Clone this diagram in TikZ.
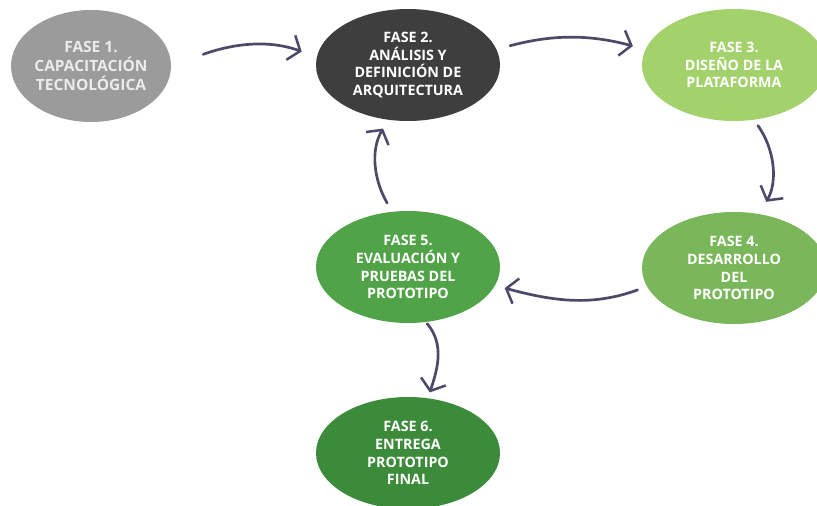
\documentclass[tikz,border=0pt]{standalone}
\usepackage{fontspec}
\setmainfont{Open Sans}[BoldFont={Open Sans Bold}]
\usetikzlibrary{shapes.geometric,arrows.meta}
\definecolor{faseA}{HTML}{9B9B9B}
\definecolor{faseB}{HTML}{3E3E3E}
\definecolor{faseC}{HTML}{A3D16B}
\definecolor{faseD}{HTML}{7AB75A}
\definecolor{faseE}{HTML}{51A348}
\definecolor{faseF}{HTML}{3C8B3A}
\definecolor{flecha}{HTML}{4B4A68}
\tikzset{
  fase/.style={ellipse, inner sep=0pt, minimum width=#1, minimum height=112bp,
    text=white, align=center, font=\fontsize{14.3bp}{17.8bp}\selectfont\bfseries},
  fase/.default=184bp,
  flujo/.style={draw=flecha, line width=2.7bp, line cap=round,
    -{Straight Barb[length=10bp,width=26bp,line width=2.5bp]}}
}
\begin{document}
\begin{tikzpicture}[x=1bp,y=-1bp]
\useasboundingbox (0,0) rectangle (817,506);
\clip (0,0) rectangle (817,506);
\fill[white] (0,0) rectangle (817,506);

% phases
\node[fase=160bp, fill=faseA, text=black!8,
      font=\fontsize{15.5bp}{19bp}\selectfont\bfseries] (f1) at (91,66) {FASE 1.\\CAPACITACIÓN\\TECNOLÓGICA};
\node[fase, fill=faseB] (f2) at (408,65) {FASE 2.\\ANÁLISIS Y\\DEFINICIÓN DE\\ARQUITECTURA};
\node[fase, fill=faseC] (f3) at (734,65) {FASE 3.\\DISEÑO DE LA\\PLATAFORMA};
\node[fase, fill=faseD] (f4) at (734,268) {FASE 4.\\DESARROLLO\\DEL\\PROTOTIPO};
\node[fase, fill=faseE] (f5) at (408,267) {FASE 5.\\EVALUACIÓN Y\\PRUEBAS DEL\\PROTOTIPO};
\node[fase, fill=faseF] (f6) at (408,453) {FASE 6.\\ENTREGA\\PROTOTIPO\\FINAL};

% connectors
\draw[flujo, shorten <=34bp, shorten >=16bp] (f1.east) to[out=20, in=160] (f2.175);
\draw[flujo, shorten <=14bp, shorten >=13bp] (f2.10) to[out=15, in=165] (f3.170);
\draw[flujo, shorten <=7bp, shorten >=14bp] (f3.-70) to[out=-55, in=60] (f4.65);
\draw[flujo, shorten <=10bp, shorten >=10bp] (f4.192) to[out=200, in=-15] (f5.-12);
\draw[flujo, shorten <=10bp, shorten >=10bp] (f5.106) to[out=120, in=-120] (f2.250);
\draw[flujo, shorten <=2bp, shorten >=6bp] (f5.-72) to[out=-50, in=72] (f6.70);
\end{tikzpicture}
\end{document}
